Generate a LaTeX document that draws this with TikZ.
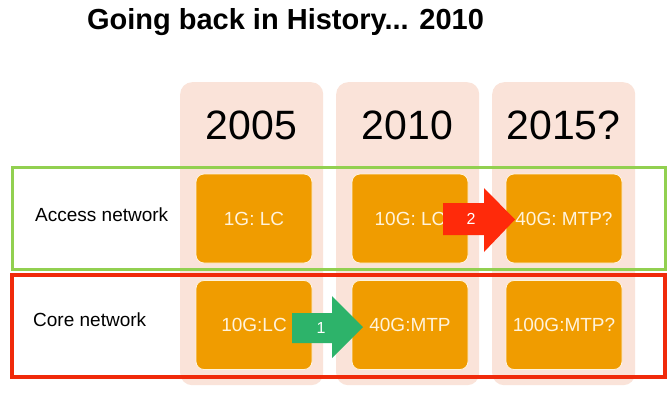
\documentclass[tikz,border=0pt]{standalone}
\usepackage{fontspec}
\setmainfont{Liberation Sans}
\definecolor{peach}{HTML}{FAE3D9}
\definecolor{boxorange}{HTML}{F09C00}
\definecolor{boxtext}{HTML}{FFF3DC}
\definecolor{accgreen}{HTML}{92D050}
\definecolor{corered}{HTML}{F02A0A}
\definecolor{arrred}{HTML}{FF2A0A}
\definecolor{arrgreen}{HTML}{2DB36A}
\tikzset{
  col/.style={fill=peach, draw=none, rounded corners=12pt, minimum width=143pt, minimum height=303pt, anchor=north west},
  yearlbl/.style={font=\fontsize{41}{46}\selectfont, text=black, inner sep=0pt},
  obox/.style={fill=boxorange, draw=boxtext, line width=0.8pt, rounded corners=8pt, minimum width=116pt, minimum height=89pt, font=\fontsize{19}{22}\selectfont, text=boxtext, inner sep=0pt},
  rowlbl/.style={font=\fontsize{19}{22}\selectfont, text=black, inner sep=0pt, anchor=west},
  arrlbl/.style={font=\fontsize{16}{19}\selectfont, text=white, inner sep=0pt}
}
\begin{document}
\begin{tikzpicture}[x=1pt,y=-1pt]
\useasboundingbox (0,0) rectangle (672,397);
\fill[white] (0,0) rectangle (672,397);
% title
\node[font=\bfseries\fontsize{29}{33}\selectfont, inner sep=0pt] (title) at (285.5,22.5) {Going back in History... 2010};
% columns
\node[col] (c1) at (180,82) {};
\node[col] (c2) at (336,82) {};
\node[col] (c3) at (492,82) {};
\node[yearlbl] (y1) at (251.5,125) {2005};
\node[yearlbl] (y2) at (407.5,125) {2010};
\node[yearlbl] (y3) at (563.5,125) {2015?};
% row frames
\draw[accgreen, line width=3pt] (12,167) rectangle (665,269);
\draw[corered, line width=3.5pt] (12,275) rectangle (665,377);
\node[rowlbl] (acc) at (35,215) {Access network};
\node[rowlbl] (core) at (33,320) {Core network};
% boxes
\node[obox] (a1) at (254,218.5) {1G: LC};
\node[obox] (a2) at (410,218.5) {10G: LC};
\node[obox] (a3) at (564,218.5) {40G: MTP?};
\node[obox] (k1) at (254,325) {10G:LC};
\node[obox] (k2) at (410,325) {40G:MTP};
\node[obox] (k3) at (564,325) {100G:MTP?};
% arrows
\fill[arrred] (443,203) -- (484,203) -- (484,188) -- (515,219.5) -- (484,252) -- (484,235) -- (443,235) -- cycle;
\node[arrlbl] (n2) at (471,219) {2};
\fill[arrgreen] (292,313) -- (332,313) -- (332,296) -- (363,327) -- (332,358) -- (332,343) -- (292,343) -- cycle;
\node[arrlbl] (n1) at (321,328) {1};
\end{tikzpicture}
\end{document}
